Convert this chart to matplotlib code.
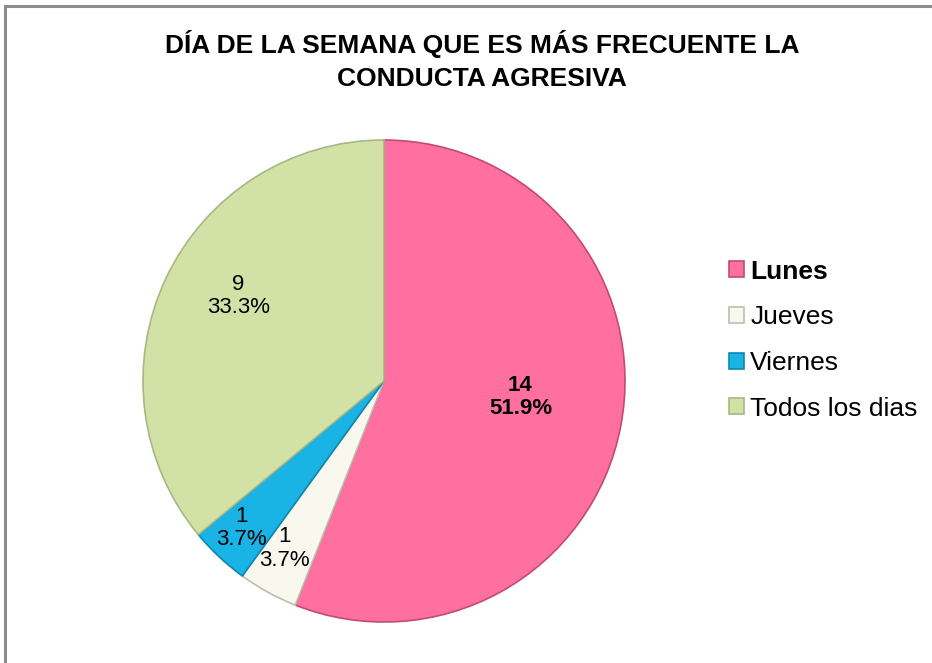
import numpy as np
import matplotlib.pyplot as plt
from matplotlib.patches import Rectangle

# datos del grafico
dias = ["Lunes", "Jueves", "Viernes", "Todos los dias"]
casos = [14, 1, 1, 9]
porcentajes = [51.9, 3.7, 3.7, 33.3]   # como aparecen en las etiquetas
colores = ["#FF6FA0", "#F8F8EE", "#19B3E6", "#D2E2A6"]
bordes = ["#C24A78", "#BDBDB0", "#0E86B0", "#A7B884"]

plt.rcParams['font.family'] = ['Liberation Sans', 'DejaVu Sans']

fig = plt.figure(figsize=(9.32, 6.63), dpi=100)
fig.patch.set_facecolor("white")

# marco gris (solo se ve arriba y a la izquierda)
fig.patches.append(Rectangle((5/932, -0.2), 1.2, 1.2 - 6/663, transform=fig.transFigure,
                             fill=False, edgecolor="#8C8C8C", lw=2.2, clip_on=False))

ax = fig.add_axes([(384-241)/932, 41/663, 482/932, 482/663])
wedges, _ = ax.pie(casos, colors=colores, startangle=90, counterclock=False,
                   radius=1.0, wedgeprops=dict(linewidth=1.2))
for w, b in zip(wedges, bordes):
    w.set_edgecolor(b)
ax.set_xlim(-1.0, 1.0)
ax.set_ylim(-1.0, 1.0)
ax.set_aspect("equal")
ax.axis("off")

desplaz = [4, -2, -1, -5]     # grados
dist = [0.57, 0.81, 0.85, 0.70]
for i, w in enumerate(wedges):
    ang = np.deg2rad((w.theta1 + w.theta2) / 2 + desplaz[i])
    x, y = dist[i] * np.cos(ang), dist[i] * np.sin(ang)
    txt = f"{casos[i]}\n{porcentajes[i]:.1f}%"
    ax.text(x, y, txt, ha="center", va="center", fontsize=16,
            fontweight="bold" if i == 0 else "normal", linespacing=1.15)

fig.text(0.517, 0.9085, "DÍA DE LA SEMANA QUE ES MÁS FRECUENTE LA\nCONDUCTA AGRESIVA",
         ha="center", va="center", fontsize=19, fontweight="bold", linespacing=1.5)

leg = fig.legend(wedges, dias, loc="center left", bbox_to_anchor=(0.757, 0.487),
                 frameon=False, fontsize=19, handlelength=0.55, handleheight=0.55,
                 handletextpad=0.25, labelspacing=0.82)
leg.get_texts()[0].set_fontweight("bold")

fig.savefig("out.png", dpi=100)
